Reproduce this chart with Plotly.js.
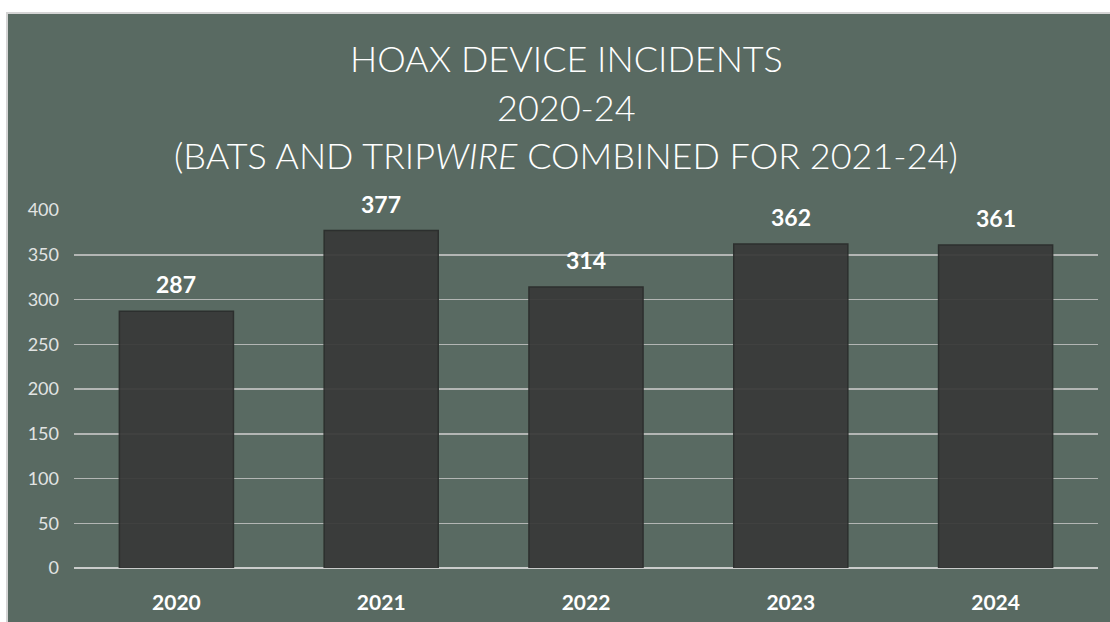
<!DOCTYPE html>
<html>
<head>
<meta charset="utf-8">
<script src="https://cdn.plot.ly/plotly-3.0.1.min.js"></script>
<style>
  html, body { margin: 0; padding: 0; background: #ffffff; width: 1110px; height: 622px; overflow: hidden; }
  #chart { position: absolute; left: 6px; top: 12px; width: 1102px; height: 608px;
           border-top: 2px solid #d4d4d4; border-left: 2px solid #d4d4d4; }
</style>
</head>
<body>
<div id="chart"></div>
<script>
const years = ['2020', '2021', '2022', '2023', '2024'];
const incidents = [287, 377, 314, 362, 361];
const titleLines = [
  'HOAX DEVICE INCIDENTS',
  '2020-24',
  '(BATS AND TRIP<i>WIRE</i> COMBINED FOR 2021-24)'
];
const yTicks = [0, 50, 100, 150, 200, 250, 300, 350, 400];

const bg = '#596a62';
const FONT = 'Lato, "Open Sans", sans-serif';

const trace = {
  type: 'bar',
  x: years,
  y: incidents,
  marker: { color: '#393a39', opacity: 0.94, line: { color: '#2a2c2b', width: 1.5 } },
  hoverinfo: 'x+y'
};

const titleY = [1.4246, 1.2877, 1.1536];
const annotations = titleLines.map((t, i) => ({
  xref: 'paper', yref: 'paper', x: 0.4805, y: titleY[i],
  xanchor: 'center', yanchor: 'middle', showarrow: false,
  text: t, font: { family: FONT, size: 36, color: '#ffffff', weight: 300 }
})).concat(years.map((yr, i) => ({
  xref: 'x', yref: 'y', x: i, y: incidents[i], yshift: 27,
  xanchor: 'center', yanchor: 'middle', showarrow: false,
  text: String(incidents[i]), font: { family: FONT, size: 23, color: '#ffffff', weight: 700 }
})));

const layout = {
  width: 1102, height: 608,
  margin: { l: 66, r: 12, t: 196, b: 54, pad: 0 },
  paper_bgcolor: bg, plot_bgcolor: bg,
  showlegend: false,
  bargap: 0.443,
  xaxis: {
    type: 'category',
    range: [-0.5, years.length - 0.5],
    tickfont: { family: FONT, size: 21, color: '#ffffff', weight: 700 },
    ticks: '', showgrid: false, zeroline: false, showline: false,
    ticklabelstandoff: 20
  },
  yaxis: {
    range: [0, 400],
    tickvals: yTicks,
    ticktext: yTicks.map(String),
    tickfont: { family: FONT, size: 18, color: '#e2e4e3' },
    ticks: '', showline: false,
    showgrid: true, gridcolor: '#b3b6b4', gridwidth: 1.5,
    zeroline: true, zerolinecolor: '#cacccb', zerolinewidth: 2.5,
    ticklabelstandoff: 14
  },
  annotations: annotations
};

Plotly.newPlot('chart', [trace], layout, { staticPlot: true, displayModeBar: false });
</script>
</body>
</html>
